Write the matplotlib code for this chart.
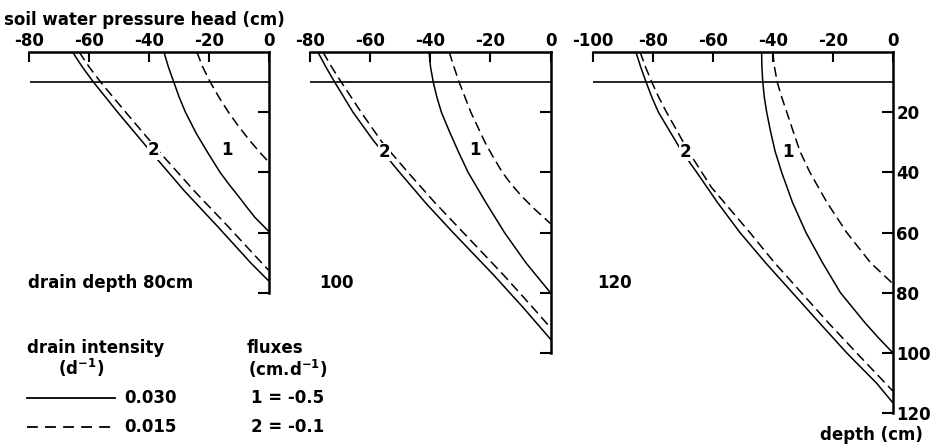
import matplotlib
matplotlib.use("Agg")
import matplotlib.pyplot as plt
from matplotlib.lines import Line2D

W, H = 934, 446
plt.rcParams['font.family'] = ['DejaVu Sans']
plt.rcParams['font.weight'] = 'bold'
plt.rcParams['mathtext.default'] = 'bf'

# ---- data -------------------------------------------------------------
drain_depths = [80, 100, 120]
head_min = [-80, -80, -100]
head_ticks = [[-80, -60, -40, -20, 0],
              [-80, -60, -40, -20, 0],
              [-100, -80, -60, -40, -20, 0]]
layer_depth = 10  # horizontal reference line (cm)

# drain depth 80 cm
d80_s1_depth = [0, 5, 10, 15, 20, 27, 33, 40, 44, 48, 52, 55, 59.5]
d80_s1_head = [-35, -33.5, -31.7, -29.9, -27.8, -24.2, -20.6, -16.2, -13.2,
               -10, -6.9, -4.5, 0]
d80_d1_depth = [0, 5, 10, 15, 20, 25, 30, 34, 36.5]
d80_d1_head = [-24, -22, -19.5, -16.6, -13.4, -9.8, -5.8, -2.3, 0]
d80_s2_depth = [0, 5, 10, 20, 33, 46, 58, 70, 76]
d80_s2_head = [-65.6, -62.3, -58.6, -50.5, -39.5, -28.3, -17, -6, 0]
d80_d2_depth = [0, 5, 10, 20, 33, 46, 58, 68, 72.5]
d80_d2_head = [-63.4, -60, -56.2, -47.8, -36.7, -25, -13.5, -4.2, 0]

# drain depth 100 cm
d100_s1_depth = [0, 5, 10, 15, 20, 26, 33, 40, 50, 60, 70, 80]
d100_s1_head = [-40.4, -39.9, -39, -37.8, -36.3, -33.8, -30.7, -27.4, -21.5,
                -15.3, -8.2, 0]
d100_d1_depth = [0, 5, 10, 20, 30, 35, 40, 44, 48, 52, 57]
d100_d1_head = [-33.7, -32.1, -30.4, -26.5, -21.8, -19, -16, -13, -9.5,
                -5.5, 0]
d100_s2_depth = [0, 5, 10, 20, 29.3, 40, 50.4, 60, 74, 85, 95.4]
d100_s2_head = [-77.4, -74.7, -71.8, -65.7, -59, -50.2, -41.3, -32.4, -19,
                -9, 0]
d100_d2_depth = [0, 5, 10, 20, 30, 40, 50, 60, 74, 85, 91.6]
d100_d2_head = [-75.7, -72.8, -69.6, -63, -56, -47.4, -38.5, -29, -15.7,
                -5.8, 0]

# drain depth 120 cm
d120_s1_depth = [0, 5, 10, 15, 20, 26, 33, 40, 50, 60, 70, 80, 90, 95, 100]
d120_s1_head = [-43.8, -43.7, -43.4, -42.9, -42.1, -40.9, -39.3, -37.1,
                -33.5, -29, -23.5, -17.5, -9.3, -4.8, 0]
d120_d1_depth = [0, 5, 10, 15, 20, 26, 33, 40, 50, 60, 70, 77]
d120_d1_head = [-40.1, -39.5, -38.6, -37.1, -35.4, -33.4, -31, -27.7, -22,
                -15.4, -7.5, 0]
d120_s2_depth = [0, 5, 10, 15, 20, 26, 33, 40, 50, 60, 70, 80, 90, 100, 110,
                 116.6]
d120_s2_head = [-85.7, -84.1, -82.3, -80.4, -78.2, -74.6, -70.4, -65.4, -58.5,
                -51, -42.5, -33.5, -24.5, -15.4, -5.5, 0]
d120_d2_depth = [0, 5, 10, 15, 20, 26, 33, 45, 60, 70, 80, 90, 100, 112.7]
d120_d2_head = [-84.3, -82.5, -80.4, -78.1, -75.5, -72.1, -68.2, -60.5, -47.7,
                -39.5, -30.5, -21.5, -12.1, 0]

panels = [
    [(d80_s1_head, d80_s1_depth, '-'), (d80_d1_head, d80_d1_depth, '--'),
     (d80_s2_head, d80_s2_depth, '-'), (d80_d2_head, d80_d2_depth, '--')],
    [(d100_s1_head, d100_s1_depth, '-'), (d100_d1_head, d100_d1_depth, '--'),
     (d100_s2_head, d100_s2_depth, '-'), (d100_d2_head, d100_d2_depth, '--')],
    [(d120_s1_head, d120_s1_depth, '-'), (d120_d1_head, d120_d1_depth, '--'),
     (d120_s2_head, d120_s2_depth, '-'), (d120_d2_head, d120_d2_depth, '--')],
]

# curve labels (head, depth) for flux 1 and flux 2
label1_pos = [(-14, 32.7), (-25.2, 32.7), (-34.9, 33.2)]
label2_pos = [(-38.5, 32.7), (-55.2, 33.2), (-69.3, 33.2)]
panel_titles = ['drain depth 80cm', '100', '120']
panel_title_pos = [(-80.5, 78.4), (-77.0, 78.4), (-98.7, 78.4)]

# ---- layout -----------------------------------------------------------
fig = plt.figure(figsize=(W / 100, H / 100), dpi=100)
edges = [(29.5, 268.5), (310, 550.5), (593, 893)]
top_px = 52
px_per_cm = 3.01
dash = (0, (6.5, 3.3))
FS = 12


def fx(x):
    return x / W


def fy(y):
    return 1 - y / H


for i, (ax_l, ax_r) in enumerate(edges):
    dmax = drain_depths[i]
    bottom_px = top_px + dmax * px_per_cm
    ax = fig.add_axes([fx(ax_l), fy(bottom_px), (ax_r - ax_l) / W,
                       (bottom_px - top_px) / H])
    ax.set_xlim(head_min[i], 0)
    ax.set_ylim(dmax, 0)
    ax.patch.set_alpha(0)
    for side in ('left', 'bottom'):
        ax.spines[side].set_visible(False)
    for side in ('top', 'right'):
        ax.spines[side].set_linewidth(1.8)
    ax.xaxis.tick_top()
    ax.yaxis.tick_right()
    ax.set_xticks(head_ticks[i])
    ax.set_xticklabels([str(t) for t in head_ticks[i]])
    ax.tick_params(axis='x', direction='in', length=7, width=1.5, pad=1.5,
                   labelsize=FS)
    yt = list(range(20, dmax + 1, 20))
    ax.set_yticks(yt)
    if i == 2:
        ax.set_yticklabels([str(t) for t in yt])
    else:
        ax.set_yticklabels([])
    ax.tick_params(axis='y', direction='in', length=8, width=1.5, pad=2.5,
                   labelsize=FS)

    ax.plot([head_min[i], 0], [layer_depth, layer_depth], color='black',
            lw=1.2, solid_capstyle='butt')
    for heads, depths, ls in panels[i]:
        ax.plot(heads, depths, color='black', lw=1.1,
                linestyle='-' if ls == '-' else dash)

    ax.text(*label1_pos[i], '1', fontsize=FS, ha='center', va='center')
    ax.text(*label2_pos[i], '2', fontsize=FS, ha='center', va='center',
            bbox=dict(facecolor='white', edgecolor='none', pad=0.3))
    ax.text(*panel_title_pos[i], panel_titles[i], fontsize=FS,
            ha='left', va='baseline')

# title of the pressure head axis
fig.text(fx(4), fy(25), 'soil water pressure head (cm)', fontsize=FS,
         ha='left', va='baseline')
fig.text(fx(820), fy(440), 'depth (cm)', fontsize=FS, ha='left',
         va='baseline')

# key
fig.text(fx(27), fy(353), 'drain intensity', fontsize=FS, va='baseline')
fig.text(fx(58), fy(375), '(d$^{-1}$)', fontsize=FS, va='baseline')
fig.add_artist(Line2D([fx(27), fx(115)], [fy(398), fy(398)], color='black',
                      lw=1.3, transform=fig.transFigure))
fig.add_artist(Line2D([fx(27), fx(115)], [fy(427), fy(427)], color='black',
                      lw=1.3, linestyle=(0, (6, 4)),
                      transform=fig.transFigure))
fig.text(fx(124), fy(403), '0.030', fontsize=FS, va='baseline')
fig.text(fx(124), fy(432), '0.015', fontsize=FS, va='baseline')
fig.text(fx(247), fy(353), 'fluxes', fontsize=FS, va='baseline')
fig.text(fx(248), fy(376), '(cm.d$^{-1}$)', fontsize=FS, va='baseline')
fig.text(fx(251), fy(403), '1 = -0.5', fontsize=FS, va='baseline')
fig.text(fx(251), fy(432), '2 = -0.1', fontsize=FS, va='baseline')

fig.savefig('out.png', dpi=100, facecolor='white')
